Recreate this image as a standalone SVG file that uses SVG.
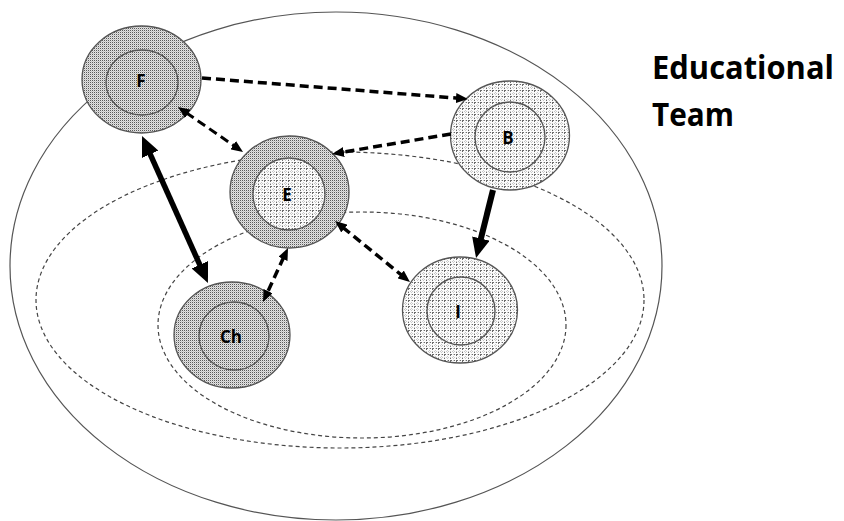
<svg xmlns="http://www.w3.org/2000/svg" width="844" height="521" viewBox="0 0 844 521">
<defs>
<pattern id="dots" width="2" height="2" patternUnits="userSpaceOnUse">
<rect width="2" height="2" fill="#e2e2e2"/>
<rect width="1" height="1" fill="#5a5a5a"/>
<rect x="1" y="1" width="1" height="1" fill="#c4c4c4"/>
</pattern>
<pattern id="grid" width="6" height="6" patternUnits="userSpaceOnUse">
<rect width="6" height="6" fill="#fbfbfb"/>
<path d="M0.5,0 V6 M0,0.5 H6" stroke="#6a6a6a" stroke-width="1" stroke-dasharray="2,1"/>
<path d="M3.5,0 V6 M0,3.5 H6" stroke="#c8c8c8" stroke-width="1" stroke-dasharray="1,1"/>
</pattern>
<marker id="ad" markerUnits="userSpaceOnUse" markerWidth="12" markerHeight="10" refX="2" refY="5" orient="auto-start-reverse" viewBox="0 0 12 10">
<path d="M0,0 L12,5 L0,10 z" fill="#000"/>
</marker>
<marker id="as" markerUnits="userSpaceOnUse" markerWidth="20" markerHeight="18" refX="2" refY="9" orient="auto-start-reverse" viewBox="0 0 20 18">
<path d="M0,0 L20,9 L0,18 z" fill="#000"/>
</marker>
</defs>
<style>
.region{fill:none;stroke:#555;stroke-width:1.2}
.dregion{fill:none;stroke:#444;stroke-width:1.2;stroke-dasharray:4,3}
.ring{stroke:#555;stroke-width:1.3}
.dk{fill:url(#dots)}
.gr{fill:url(#grid)}
.lbl{font-family:"Open Sans","Liberation Sans",sans-serif;font-weight:700;font-size:17px;fill:#000;text-anchor:middle}
.title{font-family:"Open Sans","Liberation Sans",sans-serif;font-weight:700;font-size:32px;fill:#000}
.dash{fill:none;stroke:#000;stroke-width:3.5;stroke-dasharray:9,5}
.solid{fill:none;stroke:#000;stroke-width:6}
</style>

<g id="regions">
<ellipse class="region" cx="336" cy="266" rx="326" ry="254"/>
<ellipse class="dregion" cx="340" cy="300" rx="304" ry="148"/>
<ellipse class="dregion" cx="362" cy="325" rx="204" ry="113"/>
</g>

<g id="node-F">
<ellipse class="ring dk" cx="141.5" cy="79.5" rx="59.5" ry="53.5"/>
<ellipse class="ring dk" cx="142" cy="82.5" rx="36" ry="32.5"/>
<text class="lbl" x="141" y="87">F</text>
</g>

<g id="node-B">
<ellipse class="ring gr" cx="510" cy="135.5" rx="59.5" ry="54.5"/>
<ellipse class="ring gr" cx="510" cy="137" rx="35" ry="35"/>
<text class="lbl" x="508" y="144">B</text>
</g>

<g id="node-E">
<ellipse class="ring dk" cx="289.5" cy="192" rx="59.5" ry="56"/>
<ellipse class="ring gr" cx="289" cy="194" rx="36" ry="36"/>
<text class="lbl" x="287" y="201">E</text>
</g>

<g id="node-Ch">
<ellipse class="ring dk" cx="232" cy="335" rx="58" ry="53"/>
<ellipse class="ring dk" cx="234" cy="336" rx="35" ry="34"/>
<text class="lbl" x="231" y="343">Ch</text>
</g>

<g id="node-I">
<ellipse class="ring gr" cx="460" cy="310" rx="57.5" ry="53"/>
<ellipse class="ring gr" cx="461" cy="311" rx="34" ry="34"/>
<text class="lbl" x="458" y="318">I</text>
</g>

<g id="connectors">
<line class="dash" x1="202" y1="78" x2="458" y2="98.2" marker-end="url(#ad)"/>
<line class="dash" x1="451" y1="134" x2="341.9" y2="152.3" marker-end="url(#ad)"/>
<line class="dash" style="stroke-width:3" x1="186.2" y1="112.7" x2="234.8" y2="146.3" marker-start="url(#ad)" marker-end="url(#ad)"/>
<line class="solid" x1="493" y1="190" x2="480.4" y2="240.5" marker-end="url(#as)"/>
<line class="solid" style="stroke-width:5.5" x1="149.4" y1="152.4" x2="200.6" y2="266.6" marker-start="url(#as)" marker-end="url(#as)"/>
<line class="dash" x1="283.8" y1="257.1" x2="267.2" y2="292.9" marker-start="url(#ad)" marker-end="url(#ad)"/>
<line class="dash" x1="342.8" y1="227.3" x2="402.2" y2="275.7" marker-start="url(#ad)" marker-end="url(#ad)"/>
</g>

<g id="title">
<text class="title" x="652" y="79" textLength="182" lengthAdjust="spacingAndGlyphs">Educational</text>
<text class="title" x="652" y="126" textLength="82" lengthAdjust="spacingAndGlyphs">Team</text>
</g>
</svg>
